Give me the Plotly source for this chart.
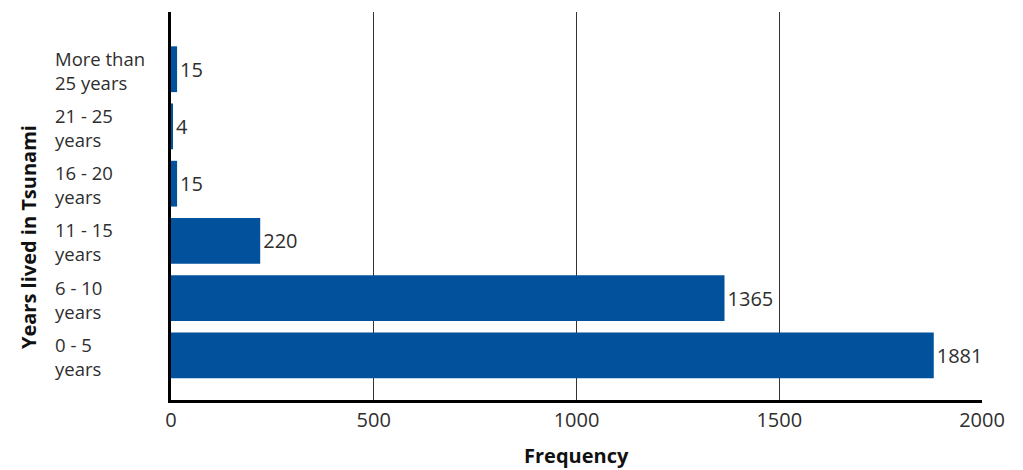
import plotly.graph_objects as go

# Respondents by years lived in Tsunami
categories = [
    "0 - 5<br>years",
    "6 - 10<br>years",
    "11 - 15<br>years",
    "16 - 20<br>years",
    "21 - 25<br>years",
    "More than<br>25 years",
]
frequency = [1881, 1365, 220, 15, 4, 15]
x_ticks = [0, 500, 1000, 1500, 2000]
x_title = "Frequency"
y_title = "Years lived in Tsunami"

BLUE = "#01519c"
TEXT = "#2e2e2e"
FONT = "Open Sans"
FS = 20

fig = go.Figure(
    go.Bar(
        x=frequency,
        y=categories,
        orientation="h",
        marker=dict(color=BLUE, line=dict(width=0)),
        width=0.8,
        text=[str(v) for v in frequency],
        textposition="outside",
        textfont=dict(family=FONT, size=FS, color=TEXT),
        constraintext="none",
        cliponaxis=False,
        hoverinfo="x+y",
    )
)

# Left-aligned two-line category labels
annotations = [
    dict(
        x=0, xref="paper", y=cat, yref="y",
        text=cat, showarrow=False, align="left",
        xanchor="left", yanchor="middle",
        xshift=-117, yshift=-1, borderpad=0,
        font=dict(family=FONT, size=18.5, color=TEXT),
    )
    for cat in categories
]

# Axis titles
annotations.append(
    dict(
        x=0.5, xref="paper", y=0, yref="paper",
        text=f"<b>{x_title}</b>", showarrow=False,
        xanchor="center", yanchor="middle", yshift=-55,
        font=dict(family=FONT, size=FS, color="#111111"),
    )
)
annotations.append(
    dict(
        x=0, xref="paper", y=0.42, yref="paper",
        text=f"<b>{y_title}</b>", showarrow=False, textangle=-90,
        xanchor="center", yanchor="middle", xshift=-143,
        font=dict(family=FONT, size=FS, color="#111111"),
    )
)

fig.update_layout(
    width=1023,
    height=470,
    margin=dict(l=171, r=41, t=12, b=70),
    plot_bgcolor="white",
    paper_bgcolor="white",
    showlegend=False,
    annotations=annotations,
    xaxis=dict(
        range=[0, 2000],
        tickvals=x_ticks,
        ticktext=[str(t) for t in x_ticks],
        showgrid=True,
        gridcolor="#333333",
        gridwidth=1.3,
        zeroline=False,
        showline=True,
        linecolor="black",
        linewidth=3,
        ticks="",
        tickfont=dict(family=FONT, size=FS, color=TEXT),
        fixedrange=True,
    ),
    yaxis=dict(
        type="category",
        categoryorder="array",
        categoryarray=categories,
        range=[-0.78, 6.0],
        showticklabels=False,
        showgrid=False,
        zeroline=False,
        showline=True,
        linecolor="black",
        linewidth=3,
        ticks="",
        fixedrange=True,
    ),
)

fig.write_html("out.html")
